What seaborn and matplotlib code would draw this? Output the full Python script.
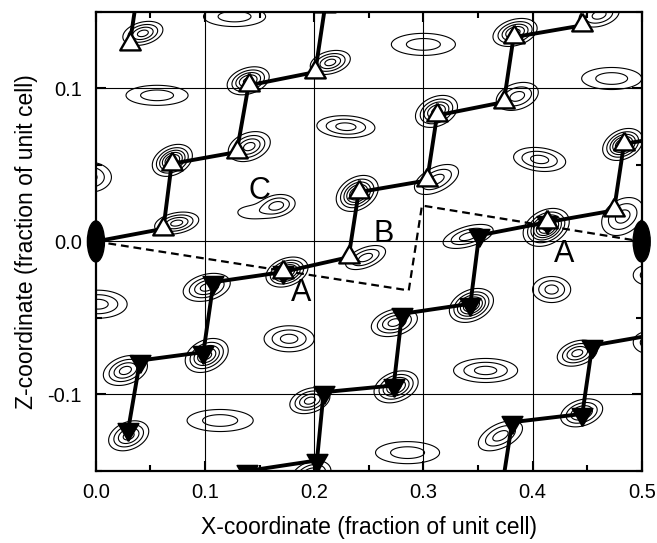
import numpy as np
import pandas as pd
import matplotlib
matplotlib.use("Agg")
import matplotlib.pyplot as plt
import seaborn as sns
from matplotlib.patches import Ellipse
from matplotlib.ticker import MultipleLocator, FormatStrFormatter

# Chain paths (fractional x, z); kind: up = open triangle, down = filled, both = overlap
chain_a_x = [0.0, 0.0618, 0.0694, 0.129, 0.1398, 0.2009, 0.210]
chain_a_y = [0.0, 0.0083, 0.0508, 0.0584, 0.102, 0.1107, 0.154]
chain_a_kind = ["none", "up", "up", "up", "up", "up", "up"]

chain_b_x = [0.031, 0.040]
chain_b_y = [0.129, 0.172]
chain_b_kind = ["up", "none"]

chain_c_x = [0.0297, 0.0404, 0.0985, 0.1077, 0.171, 0.2315, 0.2407, 0.3034, 0.3125, 0.3737, 0.3826, 0.4455]
chain_c_y = [-0.1224, -0.0778, -0.0723, -0.0266, -0.020, -0.0103, 0.0322, 0.0399, 0.0824, 0.0911, 0.1335, 0.1412]
chain_c_kind = ["down", "down", "down", "down", "both", "up", "up", "up", "up", "up", "up", "up"]

chain_d_x = [0.1382, 0.2025, 0.2086, 0.2728, 0.2804, 0.3431, 0.351, 0.4135, 0.4746, 0.4838, 0.545]
chain_d_y = [-0.150, -0.1431, -0.0985, -0.0941, -0.0473, -0.0407, 0.004, 0.0126, 0.0203, 0.0638, 0.071]
chain_d_kind = ["down", "down", "down", "down", "down", "down", "down", "both", "up", "up", "none"]

chain_e_x = [0.372, 0.3813, 0.4456, 0.4547, 0.515]
chain_e_y = [-0.161, -0.1181, -0.1127, -0.068, -0.0605]
chain_e_kind = ["none", "down", "down", "down", "none"]

# Dashed outline and two-fold axes
dash_x = [0.0, 0.2866, 0.2987, 0.5]
dash_y = [0.0, -0.032, 0.0235, 0.0]
axis2_x = [0.0, 0.5]
axis2_y = [0.0, 0.0]

# Site labels
label_text = ["C", "B", "A", "A"]
label_x = [0.1495, 0.2633, 0.1879, 0.4289]
label_y = [0.0330, 0.0050, -0.034, -0.0085]

# Density peaks: centre, outer-ring width/height, tilt, peak height
blob_x = [0.043, 0.056, 0.127, 0.1395, 0.1405, 0.070, -0.006, 0.166, 0.142, 0.074,
          0.2147, 0.229, 0.300, 0.384, 0.461, 0.4725, 0.386, 0.312, 0.4065, 0.4826,
          0.312, 0.2394, 0.4826, 0.4125, 0.341, 0.247, 0.506, 0.175, 0.1015, 0.002,
          0.177, 0.1015, 0.027, 0.1138, 0.030, 0.196, 0.197, 0.344, 0.4175, 0.2734,
          0.357, 0.441, 0.275, 0.445, 0.3706, 0.2855, 0.506]
blob_y = [0.136, 0.0955, 0.147, 0.105, 0.062, 0.053, 0.042, 0.0235, 0.019, 0.012,
          0.117, 0.075, 0.1288, 0.1366, 0.148, 0.1065, 0.0948, 0.085, 0.0536, 0.0634,
          0.0405, 0.0314, 0.0163, 0.0092, 0.0033, -0.0105, -0.022, -0.020, -0.030, -0.041,
          -0.0636, -0.0745, -0.0843, -0.117, -0.127, -0.104, -0.153, -0.0418, -0.0314, -0.053,
          -0.0843, -0.073, -0.095, -0.112, -0.127, -0.138, -0.066]
blob_w = [0.0367, 0.0569, 0.0569, 0.0385, 0.0385, 0.0367, 0.0404, 0.033, 0.0239, 0.0404,
          0.0367, 0.0532, 0.0587, 0.0404, 0.0367, 0.055, 0.0385, 0.0385, 0.0477, 0.0367,
          0.0404, 0.0385, 0.0385, 0.0422, 0.0459, 0.0367, 0.0275, 0.0385, 0.0431, 0.0532,
          0.0459, 0.0394, 0.0404, 0.0606, 0.0367, 0.0367, 0.0367, 0.0404, 0.0349, 0.0422,
          0.0587, 0.0367, 0.0404, 0.0385, 0.0404, 0.0587, 0.0275]
blob_h = [0.0157, 0.0131, 0.0131, 0.0183, 0.0196, 0.0209, 0.0196, 0.0144, 0.0078, 0.0144,
          0.0157, 0.0144, 0.0144, 0.0183, 0.0157, 0.0144, 0.0183, 0.0209, 0.0157, 0.0209,
          0.0196, 0.0235, 0.0248, 0.0248, 0.0157, 0.0157, 0.0131, 0.0196, 0.0183, 0.0183,
          0.017, 0.0222, 0.0196, 0.0144, 0.0196, 0.017, 0.0196, 0.0222, 0.017, 0.0183,
          0.0157, 0.017, 0.0209, 0.0183, 0.0196, 0.0144, 0.0144]
blob_tilt = [0.3, 0.0, 0.0, 0.3, 0.3, 0.3, 0.0, 0.2, 0.0, 0.3,
             0.3, -0.1, 0.0, 0.3, 0.3, 0.0, 0.3, 0.3, -0.2, 0.3,
             0.5, 0.3, 0.3, 0.3, 0.5, 0.5, 0.0, 0.3, 0.3, 0.0,
             0.0, 0.3, 0.3, 0.0, 0.3, 0.3, 0.3, 0.3, 0.0, 0.3,
             0.0, 0.3, 0.3, 0.3, 0.5, 0.0, 0.0]
blob_peak = [0.57, 0.30, 0.30, 0.71, 0.57, 0.85, 0.43, 0.43, 0.16, 0.57,
             0.57, 0.43, 0.30, 0.71, 0.43, 0.30, 0.43, 0.71, 0.43, 0.85,
             0.43, 0.85, 0.43, 0.97, 0.43, 0.43, 0.30, 0.85, 0.57, 0.43,
             0.43, 0.71, 0.57, 0.30, 0.57, 0.57, 0.57, 0.85, 0.43, 0.57,
             0.43, 0.57, 0.71, 0.57, 0.43, 0.30, 0.30]
contour_levels = [0.1, 0.22, 0.36, 0.5, 0.64, 0.78, 0.92]

x_ticks = [0.0, 0.1, 0.2, 0.3, 0.4, 0.5]
y_ticks = [-0.1, 0.0, 0.1]


def density_field(X, Y):
    Z = np.zeros_like(X)
    for bx, by, bw, bh, br, bp in zip(blob_x, blob_y, blob_w, blob_h, blob_tilt, blob_peak):
        k = np.sqrt(2 * np.log(bp / contour_levels[0]))
        sx, sy = bw / 2 / k, bh / 2 / k
        u = (X - bx) / sx
        v = (Y - by) / sy
        q = (u * u - 2 * br * u * v + v * v) / (1 - br * br)
        Z += bp * np.exp(-q / 2)
    return Z


def build_chains():
    frames = []
    chains = {
        "a": (chain_a_x, chain_a_y, chain_a_kind),
        "b": (chain_b_x, chain_b_y, chain_b_kind),
        "c": (chain_c_x, chain_c_y, chain_c_kind),
        "d": (chain_d_x, chain_d_y, chain_d_kind),
        "e": (chain_e_x, chain_e_y, chain_e_kind),
    }
    for name, (xs, ys, kinds) in chains.items():
        frames.append(pd.DataFrame({"chain": name, "x": xs, "y": ys, "kind": kinds}))
    return pd.concat(frames, ignore_index=True)


sns.set_style("ticks")
plt.rcParams["font.family"] = ["Liberation Sans", "DejaVu Sans"]
plt.rcParams["axes.unicode_minus"] = False
plt.rcParams["text.color"] = "black"
plt.rcParams["axes.labelcolor"] = "black"
plt.rcParams["xtick.color"] = "black"
plt.rcParams["ytick.color"] = "black"

fig = plt.figure(figsize=(6.57, 5.43), dpi=100)
ax = fig.add_axes([0.146, 0.1326, 0.8307, 0.8454])

# grid
for gx in x_ticks[1:-1]:
    ax.axvline(gx, color="black", lw=0.8, zorder=1)
for gy in y_ticks:
    ax.axhline(gy, color="black", lw=0.8, zorder=1)

# contours
gx = np.linspace(-0.04, 0.54, 700)
gy = np.linspace(-0.19, 0.19, 600)
X, Y = np.meshgrid(gx, gy)
ax.contour(X, Y, density_field(X, Y), levels=contour_levels, colors="black",
           linewidths=0.8, zorder=2)

# dashed outline
sns.lineplot(x=dash_x, y=dash_y, sort=False, estimator=None, color="black",
             lw=1.6, linestyle=(0, (3.5, 2.2)), ax=ax, zorder=3)

df = build_chains()
for name, g in df.groupby("chain"):
    sns.lineplot(data=g, x="x", y="y", sort=False, estimator=None, color="black",
                 lw=2.8, ax=ax, zorder=4)

up_marker = [(0, 1), (-0.866, -0.5), (0.866, -0.5), (0, 1)]
down_marker = [(0, -1), (-0.866, 0.5), (0.866, 0.5), (0, -1)]
down = df[df["kind"].isin(["down", "both"])]
up = df[df["kind"].isin(["up", "both"])]
sns.scatterplot(data=down, x="x", y="y", marker=down_marker, s=290, color="black",
                edgecolor="black", linewidth=1.2, ax=ax, zorder=5)
sns.scatterplot(data=up, x="x", y="y", marker=up_marker, s=290, color="white",
                edgecolor="black", linewidth=1.7, ax=ax, zorder=6)

# two-fold axes symbols
for ex, ey in zip(axis2_x, axis2_y):
    ax.add_patch(Ellipse((ex, ey), width=0.0156, height=0.0268, facecolor="black",
                         edgecolor="black", clip_on=False, zorder=8))

for t, lx, ly in zip(label_text, label_x, label_y):
    ax.text(lx, ly, t, fontsize=22, ha="center", va="center", color="black", zorder=7)

ax.set_xlim(0, 0.5)
ax.set_ylim(-0.15, 0.15)
ax.xaxis.set_major_locator(MultipleLocator(0.1))
ax.xaxis.set_minor_locator(MultipleLocator(0.05))
ax.yaxis.set_major_locator(MultipleLocator(0.1))
ax.yaxis.set_minor_locator(MultipleLocator(0.05))
ax.xaxis.set_major_formatter(FormatStrFormatter("%.1f"))
ax.yaxis.set_major_formatter(FormatStrFormatter("%.1f"))
ax.tick_params(which="both", direction="in", top=True, right=True, width=1.5,
               colors="black", labelsize=14.5)
ax.tick_params(which="major", length=7)
ax.tick_params(which="minor", length=4.5)
ax.tick_params(axis="x", pad=9)
ax.tick_params(axis="y", pad=10)
for sp in ax.spines.values():
    sp.set_linewidth(1.6)
    sp.set_color("black")
    sp.set_zorder(9)

ax.set_xlabel("X-coordinate (fraction of unit cell)", fontsize=16.5, labelpad=10)
ax.set_ylabel("Z-coordinate (fraction of unit cell)", fontsize=16.5, labelpad=7)
if ax.get_legend() is not None:
    ax.get_legend().remove()

fig.savefig("out.png", dpi=100)
